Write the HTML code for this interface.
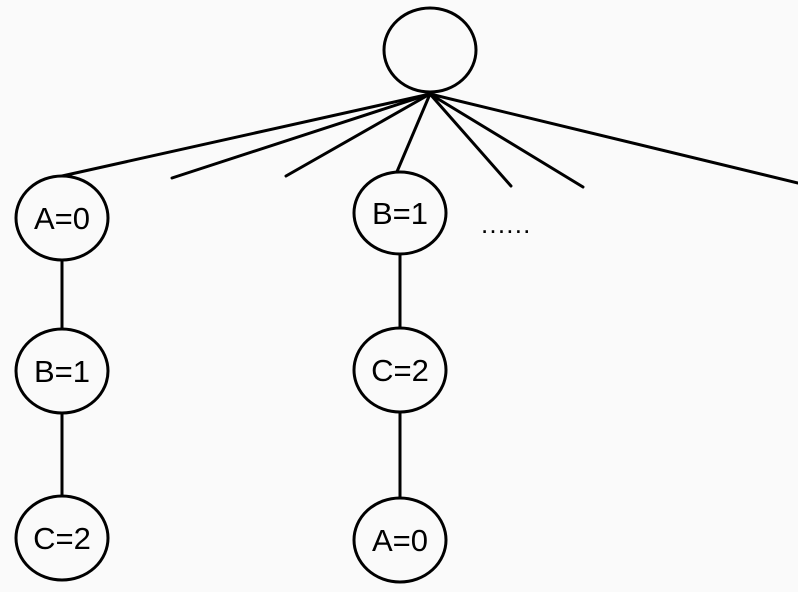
<!DOCTYPE html>
<html><head><style>html,body{margin:0;padding:0;background:#fafafa;}</style></head>
<body>
<svg width="798" height="592" xmlns="http://www.w3.org/2000/svg" style="display:block">
<g stroke="#000" stroke-width="3" fill="none" stroke-linecap="round">
<line x1="430" y1="94" x2="62" y2="176"/>
<line x1="430" y1="94" x2="172" y2="178"/>
<line x1="430" y1="94" x2="286" y2="176"/>
<line x1="430" y1="94" x2="396" y2="174"/>
<line x1="430" y1="94" x2="511" y2="186"/>
<line x1="430" y1="94" x2="583" y2="187"/>
<line x1="430" y1="94" x2="798" y2="183"/>
<line x1="62" y1="260" x2="62" y2="329"/>
<line x1="62" y1="413" x2="62" y2="496"/>
<line x1="400" y1="254" x2="400" y2="328"/>
<line x1="400" y1="412" x2="400" y2="498"/>
<ellipse cx="430" cy="50" rx="46" ry="42" fill="#fafafa"/>
<ellipse cx="62" cy="218" rx="46" ry="42" fill="#fafafa"/>
<ellipse cx="62" cy="371" rx="46" ry="42" fill="#fafafa"/>
<ellipse cx="62" cy="538" rx="46" ry="42" fill="#fafafa"/>
<ellipse cx="400" cy="213" rx="46" ry="41" fill="#fafafa"/>
<ellipse cx="400" cy="370" rx="46" ry="42" fill="#fafafa"/>
<ellipse cx="400" cy="540" rx="46" ry="42" fill="#fafafa"/>
</g>
<g font-family="Liberation Sans, sans-serif" font-size="31" text-anchor="middle" fill="#000">
<text x="62" y="229">A=0</text>
<text x="62" y="382">B=1</text>
<text x="62" y="549">C=2</text>
<text x="400" y="224">B=1</text>
<text x="400" y="381">C=2</text>
<text x="400" y="551">A=0</text>
</g>
<text x="481" y="233" font-family="Liberation Sans, sans-serif" font-size="26" letter-spacing="1.2" fill="#000">......</text>
</svg>
</body></html>
